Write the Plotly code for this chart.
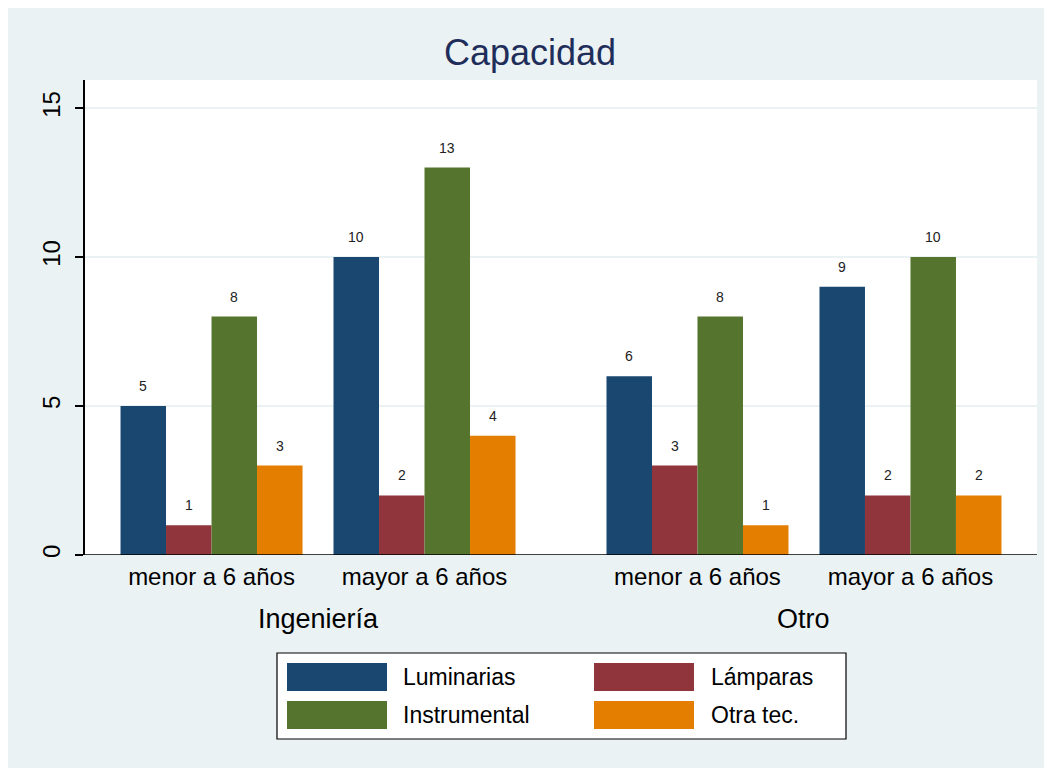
import plotly.graph_objects as go

groups = ["Ingeniería", "Otro"]
subgroups = ["menor a 6 años", "mayor a 6 años"]
series = ["Luminarias", "Lámparas", "Instrumental", "Otra tec."]
colors = ["#1A476F", "#90353B", "#55752F", "#E37E00"]
# values per series, ordered: Ing-menor, Ing-mayor, Otro-menor, Otro-mayor
luminarias = [5, 10, 6, 9]
lamparas = [1, 2, 3, 2]
instrumental = [8, 13, 8, 10]
otra_tec = [3, 4, 1, 2]
values = [luminarias, lamparas, instrumental, otra_tec]
y_ticks = [0, 5, 10, 15]

GROUP_STEP = 2.2817  # spacing between major groups (in subgroup units)
BARGAP = 0.1455
xpos = []
xlab = []
for gi, g in enumerate(groups):
    for si, s in enumerate(subgroups):
        xpos.append(gi * GROUP_STEP + si)
        xlab.append(s)

# page is rendered with an 8px body margin
OFF = 8
W, H = 1052 - OFF, 768 - OFF
PL, PR, PT, PB = 85, 1037, 80, 555  # plot area in page pixels
L, R, T, B = PL - OFF, W - (PR - OFF), PT - OFF, H - (PB - OFF)
pw, ph = PR - PL, PB - PT

def px_x(p):
    return (p - PL) / pw

def px_y(p):
    return (PB - p) / ph

FONT = "Liberation Sans"
fig = go.Figure()
annotations = []
bw = (1 - BARGAP) / len(series)
for i, (name, col, vals) in enumerate(zip(series, colors, values)):
    fig.add_trace(go.Bar(
        x=xpos, y=vals, name=name, marker_color=col,
        marker_line_width=0, showlegend=False,
    ))
    for xp, v in zip(xpos, vals):
        annotations.append(dict(x=xp + (i - (len(series) - 1) / 2) * bw, y=v,
                                xref="x", yref="y", text=str(v), showarrow=False,
                                yanchor="middle", yshift=20,
                                font=dict(size=14, color="#222222", family=FONT)))

shapes = []
# plot area white
shapes.append(dict(type="rect", xref="paper", yref="paper",
                   x0=0, x1=1, y0=0, y1=1,
                   fillcolor="white", line_width=0, layer="below"))

# group labels
for gi, g in enumerate(groups):
    annotations.append(dict(x=gi * GROUP_STEP + 0.5, y=px_y(619), xref="x", yref="paper",
                            text=g, showarrow=False, yanchor="middle",
                            font=dict(size=27, color="black", family=FONT)))

# custom legend
shapes.append(dict(type="rect", xref="paper", yref="paper",
                   x0=px_x(277), x1=px_x(846), y0=px_y(739), y1=px_y(653),
                   fillcolor="white", line=dict(color="black", width=1.2)))
sw_x = [287, 594]
tx_x = [401, 709]
rows = [(663, 691), (701, 729)]
for i, (name, col) in enumerate(zip(series, colors)):
    c, r = i % 2, i // 2
    y0, y1 = rows[r]
    shapes.append(dict(type="rect", xref="paper", yref="paper",
                       x0=px_x(sw_x[c]), x1=px_x(sw_x[c] + 100),
                       y0=px_y(y1), y1=px_y(y0),
                       fillcolor=col, line_width=0))
    annotations.append(dict(x=px_x(tx_x[c]), y=px_y((y0 + y1) / 2), xref="paper", yref="paper",
                            text=name, showarrow=False, xanchor="left", yanchor="middle",
                            font=dict(size=23, color="black", family=FONT)))

fig.update_layout(
    width=W, height=H,
    margin=dict(l=L, r=R, t=T, b=B),
    paper_bgcolor="#EAF2F3", plot_bgcolor="rgba(0,0,0,0)",
    barmode="group", bargap=BARGAP, bargroupgap=0,
    title=dict(text="Capacidad", x=0.5, xanchor="center", y=1 - (52 - OFF) / H, yanchor="middle",
               font=dict(size=36, color="#1F2D5A", family=FONT)),
    xaxis=dict(tickmode="array", tickvals=xpos, ticktext=xlab,
               range=[-0.594, GROUP_STEP + 1 + 0.594],
               showgrid=False, zeroline=False, showline=False, ticks="",
               ticklabelstandoff=5,
               tickfont=dict(size=24, color="black", family=FONT)),
    yaxis=dict(range=[0, 15.94], tickmode="array", tickvals=y_ticks,
               showgrid=True, gridcolor="#EAF2F3", gridwidth=1.5,
               zeroline=False, showline=True, linecolor="black", linewidth=1.5,
               ticks="outside", ticklen=8, tickwidth=1.5, tickcolor="black",
               tickangle=-90, ticklabelstandoff=6,
               tickfont=dict(size=24, color="black", family=FONT)),
    shapes=shapes, annotations=annotations,
    font=dict(family=FONT),
)
# x baseline
fig.add_shape(type="line", xref="paper", yref="y", x0=0, x1=1, y0=0, y1=0,
              line=dict(color="black", width=1.5))

fig.write_html("out.html")
